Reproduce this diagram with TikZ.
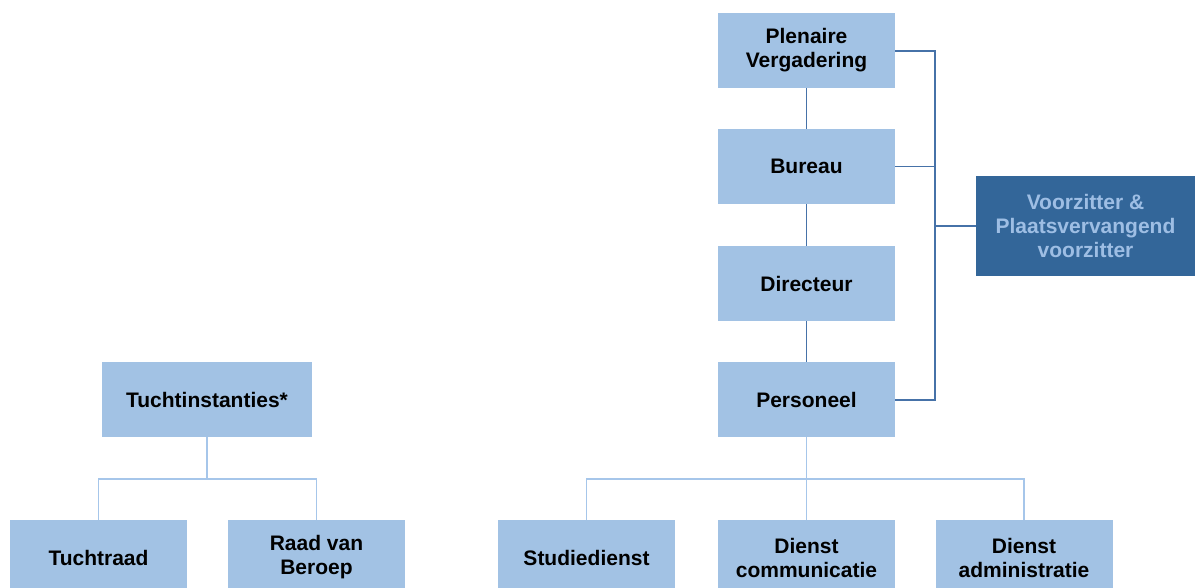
\documentclass[tikz,border=0pt]{standalone}
\usepackage{fontspec}
\setmainfont{Liberation Sans}
\definecolor{boxfill}{HTML}{A2C2E4}
\definecolor{darkfill}{HTML}{336699}
\definecolor{darkline}{HTML}{4672A8}
\definecolor{lightline}{HTML}{A6C6EA}
\definecolor{lighttext}{HTML}{9EBEE4}
\begin{document}
\begin{tikzpicture}[x=1pt,y=-1pt,
  orgbox/.style={rectangle, fill=boxfill, minimum width=177pt, minimum height=75pt, inner sep=0pt,
    align=center, font=\bfseries\fontsize{21}{24}\selectfont, text=black},
  darkbox/.style={rectangle, fill=darkfill, minimum width=219pt, minimum height=100pt, inner sep=0pt,
    align=center, font=\bfseries\fontsize{21}{24}\selectfont, text=lighttext},
  darkconn/.style={draw=darkline, line width=1.1pt},
  lightconn/.style={draw=lightline, line width=1.1pt}]
\useasboundingbox (0,0) rectangle (1195,588);
% top column
\node[orgbox] (plen) at (806.5,50.5) {Plenaire\\Vergadering};
\node[orgbox] (bur) at (806.5,166.5) {Bureau};
\node[orgbox] (dir) at (806.5,283.5) {Directeur};
\node[orgbox] (pers) at (806.5,399.5) {Personeel};
\node[darkbox] (vz) at (1085.5,226) {Voorzitter \&\\Plaatsvervangend\\voorzitter};
% left
\node[orgbox, minimum width=210pt] (tucht) at (207,399.5) {Tuchtinstanties*};
\node[orgbox] (traad) at (98.5,557.5) {Tuchtraad};
\node[orgbox] (rvb) at (316.5,557.5) {Raad van\\Beroep};
\node[orgbox] (stud) at (586.5,557.5) {Studiedienst};
\node[orgbox] (comm) at (806.5,557.5) {Dienst\\communicatie};
\node[orgbox] (adm) at (1024,557.5) {Dienst\\administratie};
% dark connectors
\draw[darkconn] (plen.south) -- (bur.north);
\draw[darkconn] (bur.south) -- (dir.north);
\draw[darkconn] (dir.south) -- (pers.north);
\coordinate (bt) at (935,51);
\coordinate (bb) at (935,400);
\coordinate (bm) at (935,226);
\draw[darkconn] (plen.east |- bt) -- (bt) -- (bb) -- (pers.east |- bb);
\draw[darkconn] (bur.east) -- (bur.east -| bt);
\draw[darkconn] (bm) -- (vz.west |- bm);
% light connectors
\coordinate (tj) at (207,479);
\draw[lightconn] (tucht.south) -- (tj);
\draw[lightconn] (traad.north) -- (traad.north |- tj) -- (rvb.north |- tj) -- (rvb.north);
\coordinate (pj) at (806.5,479);
\draw[lightconn] (pers.south) -- (comm.north);
\draw[lightconn] (stud.north) -- (stud.north |- pj) -- (adm.north |- pj) -- (adm.north);
\end{tikzpicture}
\end{document}
